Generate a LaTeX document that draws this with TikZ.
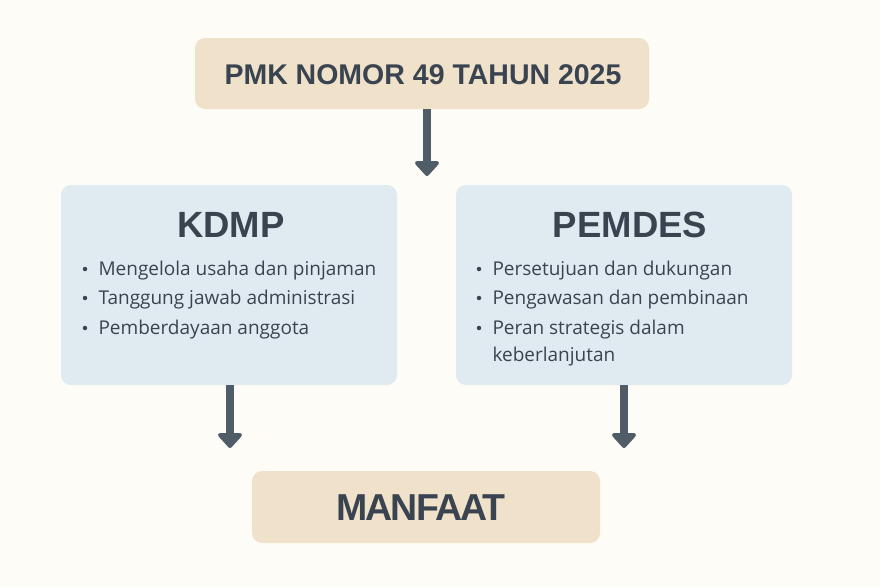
\documentclass[tikz,border=0pt]{standalone}
\usepackage{fontspec}
\setmainfont{Open Sans}[BoldFont={Open Sans Bold}]
\newfontfamily\ttlfont{Liberation Sans Bold}
\newfontfamily\bigfont{Liberation Sans Bold}
\newfontfamily\tightfont{Liberation Sans Bold}[LetterSpace=-5]
\usetikzlibrary{arrows.meta}
\definecolor{bgc}{HTML}{FEFCF6}
\definecolor{beige}{HTML}{F0E2CA}
\definecolor{paleblue}{HTML}{DFEBF0}
\definecolor{ink}{HTML}{3A4450}
\definecolor{arrowc}{HTML}{505C67}
\begin{document}
\begin{tikzpicture}[x=1pt,y=-1pt,
  box/.style={rounded corners=10pt, inner sep=0pt},
  conn/.style={draw=arrowc, line width=8pt, -{Triangle[width=28pt,length=16pt,round]}},
  ttl/.style={text=ink, font=\ttlfont\fontsize{28.5}{32}\selectfont},
  big/.style={text=ink, font=\bigfont\fontsize{36.5}{42}\selectfont},
  item/.style={text=ink, anchor=base west, font=\fontsize{19}{22}\selectfont},
  dot/.style={circle, fill=ink, inner sep=0pt, minimum size=4.5pt}
]
\fill[bgc] (0,0) rectangle (880,587);
\useasboundingbox (0,0) rectangle (880,587);
% boxes
\fill[beige, box] (195,38) rectangle (649,109);
\fill[paleblue, box] (61,185) rectangle (397,385);
\fill[paleblue, box] (456,185) rectangle (792,385);
\fill[beige, box] (252,471) rectangle (600,543);
\coordinate (topB) at (427,109);
\coordinate (topE) at (427,176);
\coordinate (lB) at (230,385);
\coordinate (lE) at (230,448);
\coordinate (rB) at (624,385);
\coordinate (rE) at (624,448);
\node[ttl] (pmk) at (423,75) {PMK NOMOR 49 TAHUN 2025};
\node[big] (kdmp) at (231,225) {KDMP};
\node[big] (pemdes) at (630,225) {PEMDES};
\node[big, font=\tightfont\fontsize{37.5}{42}\selectfont] (manfaat) at (421,508) {MANFAAT};
% left items
\node[dot] (ld1) at (85,269) {};
\node[dot] (ld2) at (85,298) {};
\node[dot] (ld3) at (85,328) {};
\node[item] (l1) at (95,275) {Mengelola usaha dan pinjaman};
\node[item] (l2) at (95,304) {Tanggung jawab administrasi};
\node[item] (l3) at (95,334) {Pemberdayaan anggota};
% right items
\node[dot] (rd1) at (479,269) {};
\node[dot] (rd2) at (479,298) {};
\node[dot] (rd3) at (479,328) {};
\node[item] (r1) at (489,275) {Persetujuan dan dukungan};
\node[item] (r2) at (489,304) {Pengawasan dan pembinaan};
\node[item] (r3) at (489,334) {Peran strategis dalam};
\node[item] (r4) at (489,361) {keberlanjutan};
% arrows
\draw[conn] (topB) -- (topE);
\draw[conn] (lB) -- (lE);
\draw[conn] (rB) -- (rE);
\end{tikzpicture}
\end{document}
